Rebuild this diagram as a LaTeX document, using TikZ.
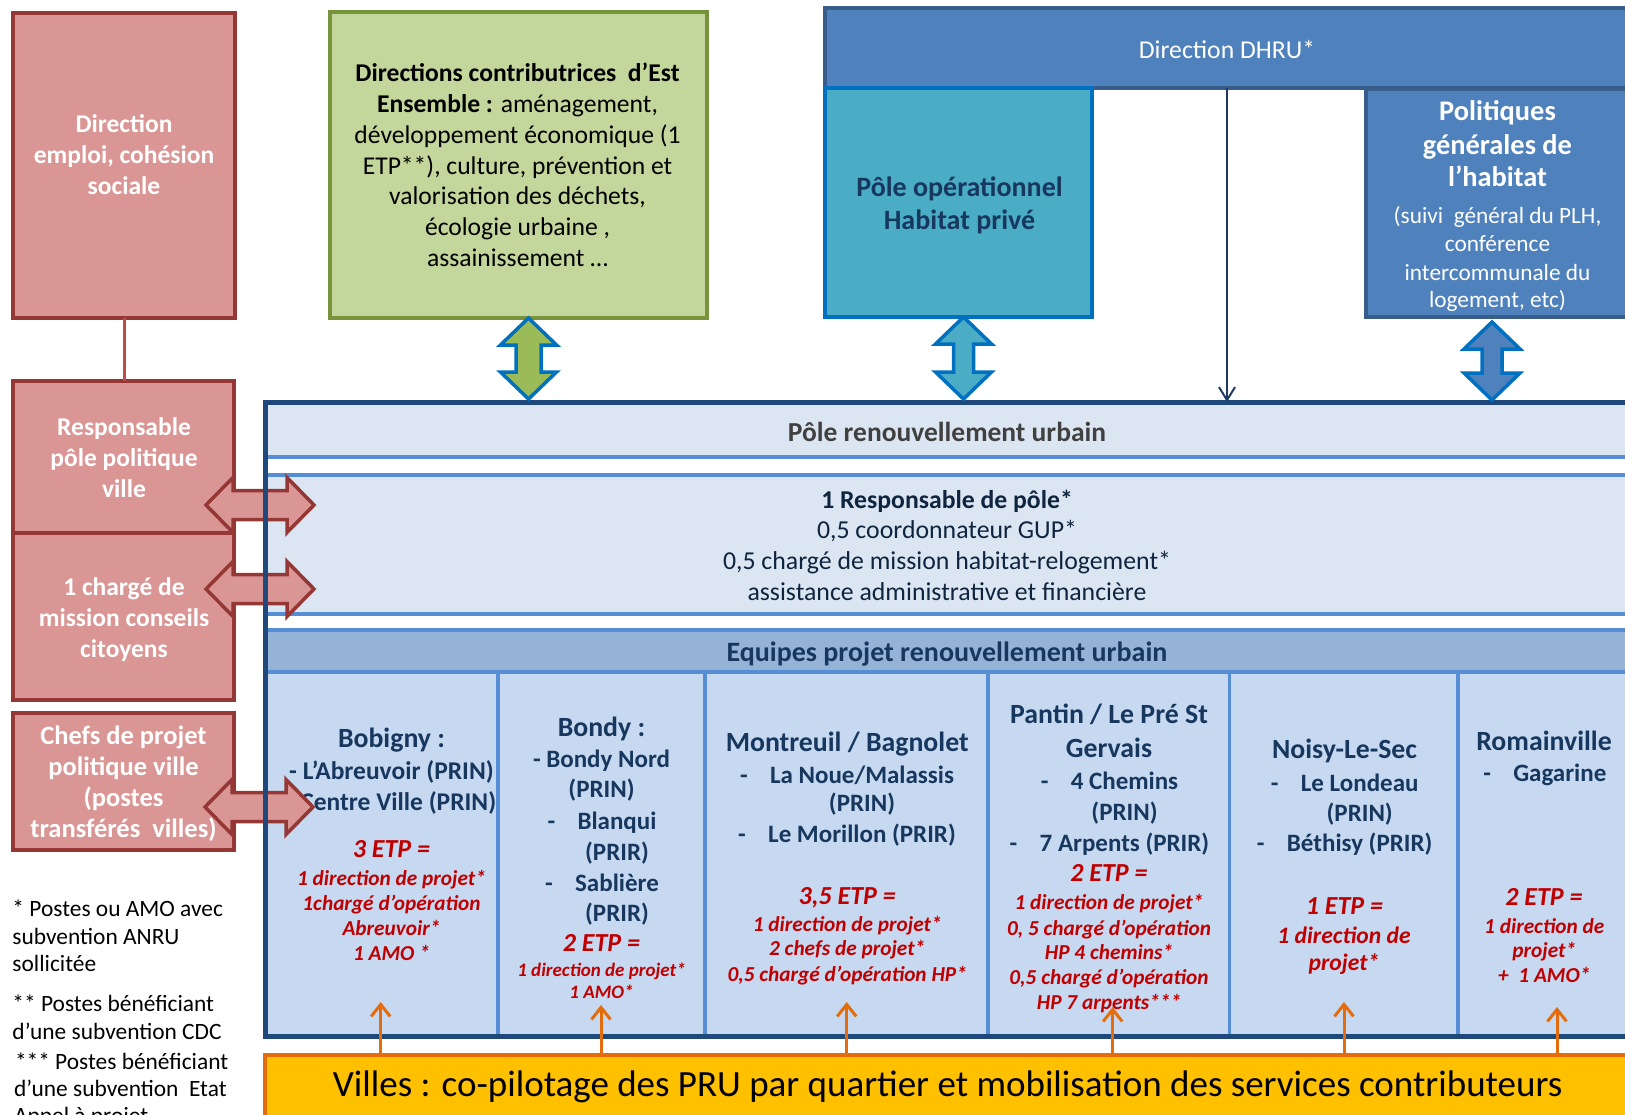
\documentclass[tikz,border=0pt]{standalone}
\usepackage{fontspec}
\setmainfont{Carlito}
\usetikzlibrary{arrows.meta,calc}
\definecolor{redfill}{HTML}{D99694}
\definecolor{redline}{HTML}{953735}
\definecolor{redconn}{HTML}{BE4B48}
\definecolor{grfill}{HTML}{C3D69B}
\definecolor{grline}{HTML}{77933C}
\definecolor{grarrow}{HTML}{9BBB59}
\definecolor{bfill}{HTML}{4F81BD}
\definecolor{bline}{HTML}{385D8A}
\definecolor{cyfill}{HTML}{4BACC6}
\definecolor{brblue}{HTML}{0070C0}
\definecolor{navy}{HTML}{1F497D}
\definecolor{navyarrow}{HTML}{1F3864}
\definecolor{bandfill}{HTML}{DCE6F2}
\definecolor{bandline}{HTML}{558ED5}
\definecolor{eqfill}{HTML}{95B3D7}
\definecolor{colfill}{HTML}{C6D9F1}
\definecolor{darktxt}{HTML}{17375E}
\definecolor{bandtxt}{HTML}{0F243E}
\definecolor{redtxt}{HTML}{C00000}
\definecolor{gold}{HTML}{FFC000}
\definecolor{orangeline}{HTML}{E46C0A}
\definecolor{greytxt}{HTML}{404040}
\newcommand\fs[1]{\fontsize{#1}{#1}\selectfont}
\newcommand\ldash{\makebox[30pt][l]{-}}
\newcommand\lind{\hspace*{30pt}}
% vertical double block arrow: style, top tip, bottom tip, head half width, shaft half width
\newcommand\vdbl[5]{\draw[#1] (#2) -- ($(#2)+(#4,27)$) -- ($(#2)+(#5,27)$) -- ($(#3)+(#5,-27)$) -- ($(#3)+(#4,-27)$) -- (#3) -- ($(#3)+(-#4,-27)$) -- ($(#3)+(-#5,-27)$) -- ($(#2)+(-#5,27)$) -- ($(#2)+(-#4,27)$) -- cycle;}
% horizontal double block arrow: style, left tip, right tip
\newcommand\hdbl[3]{\draw[#1] (#2) -- ($(#2)+(27,-27.5)$) -- ($(#2)+(27,-14.5)$) -- ($(#3)+(-27,-14.5)$) -- ($(#3)+(-27,-27.5)$) -- (#3) -- ($(#3)+(-27,27.5)$) -- ($(#3)+(-27,14.5)$) -- ($(#2)+(27,14.5)$) -- ($(#2)+(27,27.5)$) -- cycle;}
\begin{document}
\begin{tikzpicture}[x=1pt,y=-1pt,
  box/.style={draw, line width=4pt, inner sep=0pt, outer sep=0pt, anchor=north west},
  redbox/.style={box, draw=redline, fill=redfill},
  tl/.style={inner sep=0pt, outer sep=0pt, anchor=mid, yshift=-6pt},
  rtxt/.style={tl, text=white, font=\fs{25.5}\bfseries},
  gtxt/.style={tl, text=black, font=\fs{25.6}},
  ptxt/.style={tl, text=white, font=\fs{28.4}\bfseries},
  psmall/.style={tl, text=white, font=\fs{23.3}},
  btxt/.style={tl, text=bandtxt, font=\fs{25.8}},
  head/.style={tl, text=darktxt, font=\fs{27.8}\bfseries},
  item/.style={tl, text=darktxt, font=\fs{25}\bfseries},
  etp/.style={tl, text=redtxt, font=\fs{26}\bfseries\itshape},
  det/.style={tl, text=redtxt, font=\fs{21.3}\bfseries\itshape},
  foot/.style={inner sep=0pt, outer sep=0pt, anchor=mid west, yshift=-6pt, font=\fs{23.4}},
  bandl/.style={draw=bandline, line width=3.5pt},
  redarr/.style={draw=redline, fill=redfill, line width=3.5pt, line join=miter},
  vblock/.style={draw=brblue, line width=3.5pt, line join=miter},
  oarr/.style={draw=orangeline, line width=3pt, -{Straight Barb[length=12pt,width=19pt]}},
]
\useasboundingbox (0,0) rectangle (1625,1114);
\clip (0,0) rectangle (1625,1114);

% ---------- left red boxes ----------
\node[redbox, minimum width=222pt, minimum height=305pt] (red1) at (13,13) {};
\node[redbox, minimum width=221pt, minimum height=152pt] (red2) at (13,381) {};
\node[redbox, minimum width=221pt, minimum height=167pt] (red3) at (13,533) {};
\node[redbox, minimum width=221pt, minimum height=137pt] (red4) at (13,713) {};
\draw[draw=redconn, line width=3pt] (red1.south) -- (red1.south |- red2.north);

\node[rtxt] (r1a) at (124,124.4) {Direction};
\node[rtxt] (r1b) at (124,155.5) {emploi, cohésion};
\node[rtxt] (r1c) at (124,186) {sociale};
\node[rtxt] (r2a) at (124,427.5) {Responsable};
\node[rtxt] (r2b) at (124,458) {pôle politique};
\node[rtxt] (r2c) at (124,489) {ville};
\node[rtxt] (r3a) at (124,587) {1 chargé de};
\node[rtxt] (r3b) at (124,618) {mission conseils};
\node[rtxt] (r3c) at (124,649) {citoyens};
\node[rtxt, font=\fs{26.5}\bfseries] (r4a) at (123.5,736.5) {Chefs de projet};
\node[rtxt, font=\fs{26.5}\bfseries] (r4b) at (123.5,767.5) {politique ville};
\node[rtxt, font=\fs{26.5}\bfseries] (r4c) at (123.5,798.5) {(postes};
\node[rtxt, font=\fs{26.5}\bfseries] (r4d) at (123.5,829.5) {transférés\ \ villes)};

% ---------- green box ----------
\node[box, draw=grline, fill=grfill, minimum width=377pt, minimum height=306pt] (green) at (330,12) {};
\node[gtxt] (g1) at (517.5,73.3) {\textbf{Directions contributrices\ \ d’Est}};
\node[gtxt] (g2) at (517.5,104.1) {\textbf{Ensemble :} aménagement,};
\node[gtxt] (g3) at (517.5,134.9) {développement économique (1};
\node[gtxt] (g4) at (517.5,165.7) {ETP**), culture, prévention et};
\node[gtxt] (g5) at (517.5,196.5) {valorisation des déchets,};
\node[gtxt] (g6) at (517.5,227.3) {écologie urbaine ,};
\node[gtxt] (g7) at (517.5,258.1) {assainissement …};

% ---------- DHRU ----------
\node[box, draw=bline, fill=bfill, minimum width=830pt, minimum height=80pt] (dhru) at (825,8) {};
\node[tl, text=white, font=\fs{25.7}] (dhrut) at (1227,50) {Direction DHRU*};
\node[box, draw=brblue, fill=cyfill, minimum width=267pt, minimum height=229pt] (hprive) at (825,88) {};
\node[tl, text=darktxt, font=\fs{28}\bfseries] (hp1) at (959.5,187.7) {Pôle opérationnel};
\node[tl, text=darktxt, font=\fs{28}\bfseries] (hp2) at (959.5,221) {Habitat privé};
\node[box, draw=bline, fill=bfill, minimum width=290pt, minimum height=228pt] (polit) at (1366,89) {};
\node[ptxt] (po1) at (1497.5,112.3) {Politiques};
\node[ptxt] (po2) at (1497.5,146) {générales de};
\node[ptxt] (po3) at (1497.5,178.5) {l’habitat};
\node[psmall] (po4) at (1497.5,215) {(suivi\ \ général du PLH,};
\node[psmall] (po5) at (1497.5,243.3) {conférence};
\node[psmall] (po6) at (1497.5,271.7) {intercommunale du};
\node[psmall] (po7) at (1497.5,299.3) {logement, etc)};

% ---------- pole renouvellement urbain ----------
\node[box, draw=none, fill=colfill, minimum width=1390pt, minimum height=634pt] (pole) at (265,402) {};
\node[box, draw=none, fill=bandfill, minimum width=1390pt, minimum height=55pt] (band1) at (265,402) {};
\fill[white] (265,457) rectangle (1655,475);
\node[box, draw=none, fill=bandfill, minimum width=1390pt, minimum height=139pt] (band2) at (265,475) {};
\fill[white] (265,614) rectangle (1655,630);
\node[box, draw=none, fill=eqfill, minimum width=1390pt, minimum height=42pt] (band3) at (265,630) {};
\foreach \yy in {457,475,614,630,672} \draw[bandl] (265,\yy) -- (1655,\yy);
\foreach \xx in {498,705,988,1229.5,1458} \draw[bandl] (\xx,672) -- (\xx,1036);

\node[tl, text=greytxt, font=\fs{27.5}\bfseries] (b1t) at (947,432.7) {Pôle renouvellement urbain};
\node[btxt, font=\fs{25.7}\bfseries] (b2a) at (947,500) {1 Responsable de pôle*};
\node[btxt] (b2b) at (947,530.5) {0,5 coordonnateur GUP*};
\node[btxt] (b2c) at (947,561.5) {0,5 chargé de mission habitat-relogement*};
\node[btxt] (b2d) at (947,592.3) {assistance administrative et financière};
\node[tl, text=darktxt, font=\fs{28}\bfseries] (b3t) at (947,653.3) {Equipes projet renouvellement urbain};

% Bobigny
\node[head] (c1h) at (391.5,739.3) {Bobigny :};
\node[item, font=\fs{25.5}\bfseries] (c1a) at (391.5,771) {- L’Abreuvoir (PRIN)};
\node[item, font=\fs{25.5}\bfseries] (c1b) at (391.5,801.7) {- Centre Ville (PRIN)};
\node[etp] (c1e) at (391.5,849.3) {3 ETP =};
\node[det] (c1d1) at (391.5,876.7) {1 direction de projet*};
\node[det] (c1d2) at (391.5,901.7) {1chargé d’opération};
\node[det] (c1d3) at (391.5,926.7) {Abreuvoir*};
\node[det] (c1d4) at (391.5,952.3) {1 AMO *};
% Bondy
\node[head] (c2h) at (601.5,727.7) {Bondy :};
\node[item] (c2a) at (601.5,759.3) {- Bondy Nord};
\node[item] (c2b) at (601.5,789.3) {(PRIN)};
\node[item] (c2c) at (602,821) {\ldash Blanqui};
\node[item] (c2d) at (602,851.7) {\lind(PRIR)};
\node[item] (c2e) at (602,882.7) {\ldash Sablière};
\node[item] (c2f) at (602,912.7) {\lind(PRIR)};
\node[etp] (c2g) at (601.5,942.7) {2 ETP =};
\node[det, font=\fs{19}\bfseries\itshape] (c2d1) at (601.5,968.3) {1 direction de projet*};
\node[det, font=\fs{19}\bfseries\itshape] (c2d2) at (601.5,990) {1 AMO*};
% Montreuil
\node[head] (c3h) at (847.2,742.7) {Montreuil / Bagnolet};
\node[item] (c3a) at (847,775) {\ldash La Noue/Malassis};
\node[item] (c3b) at (847,803.3) {\lind(PRIN)};
\node[item] (c3c) at (847,834) {\ldash Le Morillon (PRIR)};
\node[etp] (c3e) at (847.2,895.7) {3,5 ETP =};
\node[det] (c3d1) at (847.2,923.3) {1 direction de projet*};
\node[det] (c3d2) at (847.2,947.3) {2 chefs de projet*};
\node[det] (c3d3) at (847.2,972.7) {0,5 chargé d’opération HP*};
% Pantin
\node[head] (c4h) at (1109,715) {Pantin / Le Pré St};
\node[head] (c4i) at (1109,749.3) {Gervais};
\node[item] (c4a) at (1109.5,780.7) {\ldash 4 Chemins};
\node[item] (c4b) at (1109.5,811.7) {\lind(PRIN)};
\node[item] (c4c) at (1109.5,842.7) {\ldash 7 Arpents (PRIR)};
\node[etp] (c4e) at (1109,873.3) {2 ETP =};
\node[det] (c4d1) at (1109,900.7) {1 direction de projet*};
\node[det] (c4d2) at (1109,926.7) {0, 5 chargé d’opération};
\node[det] (c4d3) at (1109,950.7) {HP 4 chemins*};
\node[det] (c4d4) at (1109,976) {0,5 chargé d’opération};
\node[det] (c4d5) at (1109,1000.7) {HP 7 arpents***};
% Noisy
\node[head] (c5h) at (1344.5,750) {Noisy-Le-Sec};
\node[item] (c5a) at (1344.7,783.3) {\ldash Le Londeau};
\node[item] (c5b) at (1344.7,812.7) {\lind(PRIN)};
\node[item] (c5c) at (1344.7,843.3) {\ldash Béthisy (PRIR)};
\node[etp] (c5e) at (1344.5,905.7) {1 ETP =};
\node[det, font=\fs{23.6}\bfseries\itshape] (c5d1) at (1344,935) {1 direction de};
\node[det, font=\fs{23.6}\bfseries\itshape] (c5d2) at (1344,962.3) {projet*};
% Romainville
\node[head] (c6h) at (1544,741.7) {Romainville};
\node[item] (c6a) at (1544.8,773.3) {\ldash Gagarine};
\node[etp] (c6e) at (1544,896.7) {2 ETP =};
\node[det] (c6d1) at (1544.3,925) {1 direction de};
\node[det] (c6d2) at (1544.3,949.3) {projet*};
\node[det] (c6d3) at (1544.3,974) {+\ \ 1 AMO*};

% ---------- red horizontal double arrows ----------
\coordinate (ra1) at (206,505); \coordinate (rb1) at (314,505);
\coordinate (ra2) at (206,589); \coordinate (rb2) at (314,589);
\coordinate (ra3) at (205,807); \coordinate (rb3) at (313,807);
\hdbl{redarr}{ra1}{rb1}
\hdbl{redarr}{ra2}{rb2}
\hdbl{redarr}{ra3}{rb3}

% pole outer border
\draw[draw=navy, line width=5pt] (pole.north west) rectangle (pole.south east);

% ---------- vertical double arrows ----------
\coordinate (ga) at ($(green.south)+(10,0)$); \coordinate (gb) at ($(ga |- pole.north)+(0,-3)$);
\vdbl{vblock, fill=grarrow}{ga}{gb}{28}{12.5}
\coordinate (ca) at ($(hprive.south)+(5,0)$); \coordinate (cb) at ($(ca |- pole.north)+(0,-3)$);
\vdbl{vblock, fill=cyfill}{ca}{cb}{28}{10}
\coordinate (ba) at ($(polit.south -| 1492,0)+(0,5)$); \coordinate (bb) at ($(ba |- pole.north)+(0,-2)$);
\vdbl{vblock, fill=bfill}{ba}{bb}{28}{10}

% DHRU thin arrow
\coordinate (dh) at (1227,0);
\draw[draw=navyarrow, line width=2pt, -{Straight Barb[length=13pt,width=16pt]}] (dhru.south -| dh) -- (dh |- pole.north);

% ---------- Villes bar ----------
\node[box, draw=orangeline, fill=gold, minimum width=1390pt, minimum height=80pt] (villes) at (265,1055) {};
\node[tl, text=black, font=\fs{37}, yshift=-3pt] (villest) at (947.7,1085) {Villes : co-pilotage des PRU par quartier et mobilisation des services contributeurs};
\foreach \xx/\yy [count=\k] in {380.7/1002,601/1005,846.7/1002,1112.7/1007,1344/1002,1557/1007}{
  \coordinate (oa\k) at (\xx,\yy);
  \draw[oarr] (villes.north -| oa\k) -- (oa\k);
}

% ---------- footnotes ----------
\node[foot] (f1) at (12.5,908.3) {* Postes ou AMO avec};
\node[foot] (f2) at (12.5,936) {subvention ANRU};
\node[foot] (f3) at (12.5,963.3) {sollicitée};
\node[foot] (f4) at (12.5,1003.3) {** Postes bénéficiant};
\node[foot] (f5) at (12.5,1031) {d’une subvention CDC};
\node[foot] (f6) at (15,1060.7) {*** Postes bénéficiant};
\node[foot] (f7) at (14,1088.3) {d’une subvention\ \ Etat};
\node[foot] (f8) at (14,1115) {Appel à projet};
\end{tikzpicture}
\end{document}
